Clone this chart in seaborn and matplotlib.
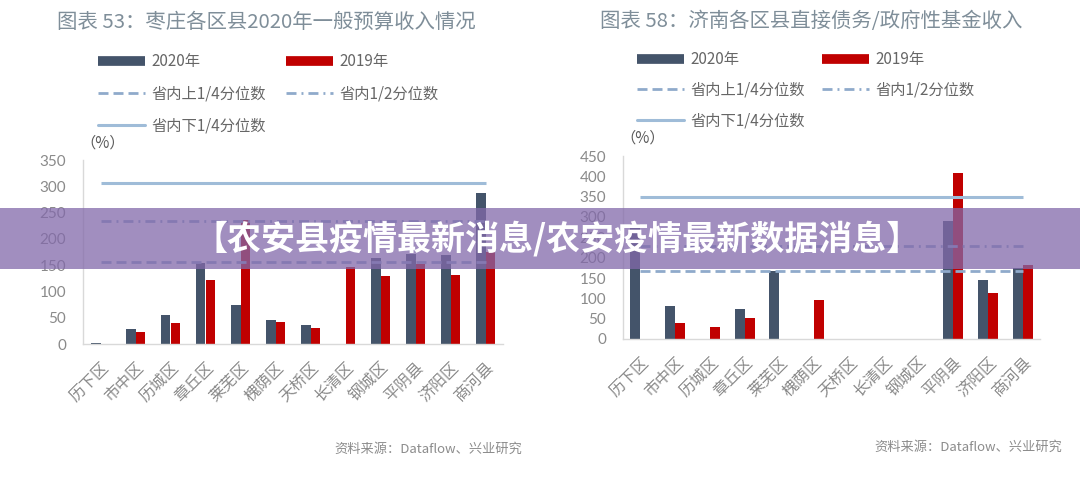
import matplotlib
matplotlib.use("Agg")
import matplotlib.pyplot as plt
import seaborn as sns
import pandas as pd
from matplotlib.lines import Line2D
from matplotlib.patches import Rectangle

# ---------------- data ----------------
categories = ["历下区", "市中区", "历城区", "章丘区", "莱芜区", "槐荫区",
              "天桥区", "长清区", "钢城区", "平阴县", "济阳区", "商河县"]
years = ["2020年", "2019年"]

left_title = "图表 53：枣庄各区县2020年一般预算收入情况"
left_2020 = [2, 29, 55, 155, 74, 46, 37, 0, 163, 172, 170, 287]
left_2019 = [0, 22, 39, 122, 235, 41, 30, 146, 130, 153, 132, 175]
left_upper_q = 156     # 省内上1/4分位数 (dashed)
left_median = 234      # 省内1/2分位数 (dash-dot)
left_lower_q = 306     # 省内下1/4分位数 (solid)
left_yticks = [0, 50, 100, 150, 200, 250, 300, 350]

right_title = "图表 58：济南各区县直接债务/政府性基金收入"
right_2020 = [284, 80, 0, 75, 167, 0, 0, 0, 0, 290, 146, 174]
right_2019 = [0, 40, 30, 52, 0, 97, 0, 0, 0, 408, 114, 183]
right_upper_q = 167
right_median = 228
right_lower_q = 349
right_yticks = [0, 50, 100, 150, 200, 250, 300, 350, 400, 450]

legend_labels = ["2020年", "省内上1/4分位数", "省内下1/4分位数", "2019年", "省内1/2分位数"]
unit_label = "（%）"
source_text = "资料来源：Dataflow、兴业研究"
banner_text = "【农安县疫情最新消息/农安疫情最新数据消息】"

# ---------------- style ----------------
sns.set_theme(style="white")
plt.rcParams["font.family"] = ["Noto Sans CJK SC", "DejaVu Sans"]

C2020 = "#44546a"
C2019 = "#c00000"
CLINE = "#9fbcd8"
CDASH = "#8faacb"
GRAY = "#8a8a8a"
TITLE_C = "#7f8e99"

W, H = 1080, 479
fig = plt.figure(figsize=(W / 100, H / 100), dpi=100)
fig.patch.set_facecolor("white")


def px_axes(x0, x1, ytop, ybot):
    return fig.add_axes([x0 / W, 1 - ybot / H, (x1 - x0) / W, (ybot - ytop) / H])


DASHED = (0, (3.6, 1.8))
DASHDOT = (0, (3.6, 1.8, 0.7, 1.8))


def draw_chart(ax, v2020, v2019, uq, med, lq, yticks):
    df = pd.DataFrame({
        "区县": categories * 2,
        "年份": [years[0]] * len(categories) + [years[1]] * len(categories),
        "值": list(v2020) + list(v2019),
    })
    sns.barplot(data=df, x="区县", y="值", hue="年份", hue_order=years,
                palette={years[0]: C2020, years[1]: C2019}, saturation=1,
                width=0.57, gap=0, errorbar=None, legend=False, ax=ax,
                linewidth=0, zorder=2)
    n = len(categories)
    ax.hlines(uq, 0, n - 1, colors=CDASH, linewidth=2, linestyles=DASHED, zorder=3)
    ax.hlines(med, 0, n - 1, colors=CDASH, linewidth=2, linestyles=DASHDOT, zorder=3)
    ax.hlines(lq, 0, n - 1, colors=CLINE, linewidth=2.2, zorder=3)
    ax.set_xlim(-0.5, n - 0.5)
    ax.set_ylim(yticks[0], yticks[-1])
    ax.set_yticks(yticks)
    ax.set_yticklabels([str(t) for t in yticks], fontsize=11, color=GRAY,
                       fontfamily=["Lato", "DejaVu Sans"])
    ax.set_xticks(range(n))
    ax.set_xticklabels(categories, rotation=45, ha="right", rotation_mode="anchor",
                       fontsize=11.5, color=GRAY)
    ax.set_xlabel("")
    ax.set_ylabel("")
    ax.tick_params(axis="x", length=0, pad=11)
    ax.tick_params(axis="y", length=0, pad=12)
    ax.set_xticks([i + 0.5 for i in range(-1, n)], minor=True)
    ax.tick_params(axis="x", which="minor", length=3, direction="in", color="#d9d9d9")
    for s in ["top", "right"]:
        ax.spines[s].set_visible(False)
    for s in ["left", "bottom"]:
        ax.spines[s].set_color("#d9d9d9")
        ax.spines[s].set_linewidth(1)
    ax.set_facecolor("none")


def legend_handles():
    return [
        Line2D([], [], color=C2020, lw=7, solid_capstyle="butt"),
        Line2D([], [], color=CDASH, lw=2, linestyle=DASHED),
        Line2D([], [], color=CLINE, lw=2.2),
        Line2D([], [], color=C2019, lw=7, solid_capstyle="butt"),
        Line2D([], [], color=CDASH, lw=2, linestyle=DASHDOT),
    ]


# ---------------- left chart ----------------
axL = px_axes(83, 503, 160, 344)
draw_chart(axL, left_2020, left_2019, left_upper_q, left_median, left_lower_q, left_yticks)
fig.text(57 / W, 1 - 22 / H, left_title, fontsize=14.7, color=TITLE_C, va="center", ha="left")
fig.legend(legend_handles(), legend_labels, ncol=2, loc="upper left",
           bbox_to_anchor=(98 / W, 1 - 53 / H), frameon=False, fontsize=11,
           handlelength=3.1, handletextpad=0.4, labelspacing=1.0,
           columnspacing=1.3, borderpad=0, borderaxespad=0, labelcolor="#666666")
fig.text(80 / W, 1 - 143 / H, unit_label, fontsize=11, color="#595959", va="center", ha="left")
fig.text(522 / W, 1 - 449 / H, source_text, fontsize=9.5, color="#8c8c8c", va="center", ha="right")

# ---------------- right chart ----------------
axR = px_axes(623, 1040, 156, 339)
draw_chart(axR, right_2020, right_2019, right_upper_q, right_median, right_lower_q, right_yticks)
fig.text(600 / W, 1 - 22 / H, right_title, fontsize=14.7, color=TITLE_C, va="center", ha="left")
fig.legend(legend_handles(), legend_labels, ncol=2, loc="upper left",
           bbox_to_anchor=(637 / W, 1 - 51 / H), frameon=False, fontsize=11,
           handlelength=3.1, handletextpad=0.4, labelspacing=0.9,
           columnspacing=1.1, borderpad=0, borderaxespad=0, labelcolor="#666666")
fig.text(620 / W, 1 - 138 / H, unit_label, fontsize=11, color="#595959", va="center", ha="left")
fig.text(1062 / W, 1 - 447 / H, source_text, fontsize=9.5, color="#8c8c8c", va="center", ha="right")

# ---------------- overlay banner ----------------
banner = Rectangle((0, 1 - 269 / H), 1, 61 / H, transform=fig.transFigure,
                   facecolor=(130 / 255, 105 / 255, 170 / 255), alpha=0.75,
                   edgecolor="none", zorder=10)
fig.patches.append(banner)
fig.text(557 / W, 1 - 239 / H, banner_text, fontsize=24.5, fontweight="heavy",
         color="white", ha="center", va="center", zorder=11)

fig.savefig("out.png", dpi=100)
